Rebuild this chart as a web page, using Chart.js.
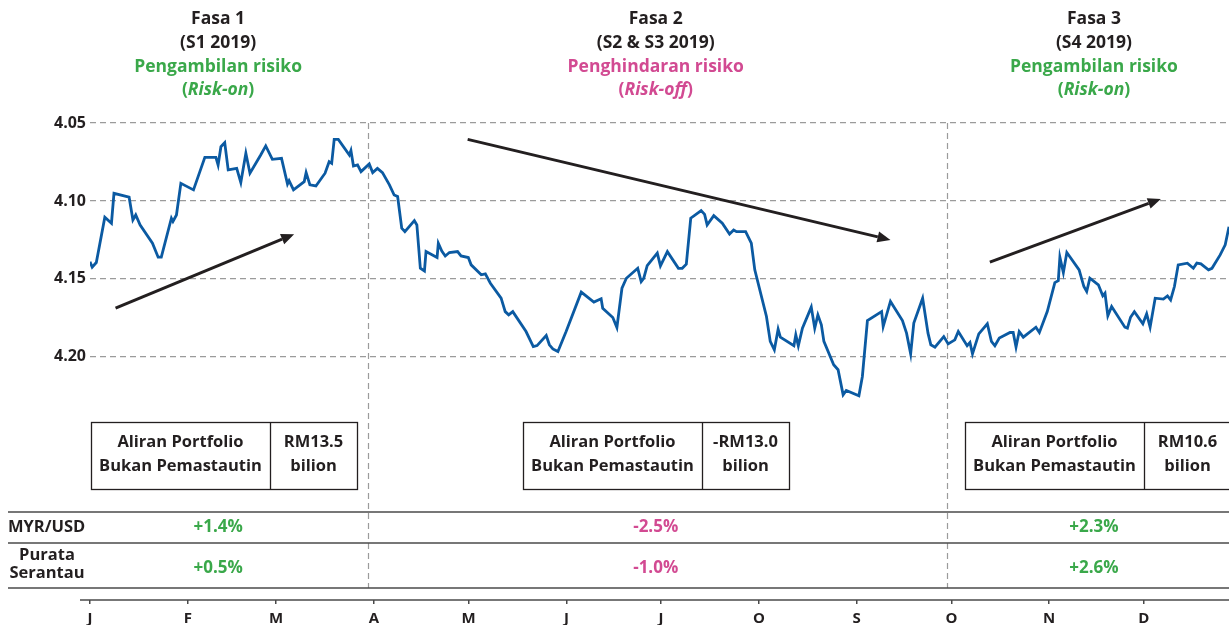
<!DOCTYPE html>
<html>
<head>
<meta charset="utf-8">
<script src="https://cdn.jsdelivr.net/npm/chart.js@4.4.0/dist/chart.umd.min.js"></script>
<style>
  html, body { margin: 0; padding: 0; background: #fff; }
  #wrap { width: 1229px; height: 625px; }
</style>
</head>
<body>
<div id="wrap"><canvas id="fxChart" width="1229" height="625"></canvas></div>
<script>
// MYR/USD 2019, day of year (0 = 1 Jan) and rate
const days = [0, 0.7, 2.0, 4.7, 6.8, 7.6, 12.4, 13.6, 14.5, 15.9, 19.8, 21.6, 22.6, 25.8, 26.3, 27.4, 28.8, 32.8, 36.4, 39.9,
  40.6, 41.5, 42.7, 43.8, 46.5, 47.8, 49.4, 50.7, 54.1, 55.7, 57.8, 60.7, 62.6, 63.1, 64.5, 67.9, 68.5, 69.7, 71.6, 74.5,
  75.8, 76.6, 77.4, 78.7, 82.2, 82.7, 83.5, 84.8, 85.9, 88.5, 89.6, 91.1, 92.7, 94.9, 96.4, 97.5, 98.8, 99.8, 102.8, 103.6,
  104.7, 106.0, 106.5, 110.0, 110.4, 111.5, 112.6, 113.9, 116.5, 117.6, 119.9, 120.8, 124.0, 125.3, 126.9, 130.3, 131.6, 132.7, 134.0, 138.2,
  140.5, 141.7, 144.6, 145.6, 146.7, 148.3, 150.9, 155.7, 159.7, 162.0, 162.5, 165.7, 167.0, 168.6, 170.0, 173.6, 174.7, 175.5, 176.6, 179.8,
  180.8, 183.0, 186.5, 187.7, 189.0, 190.4, 193.7, 194.8, 195.6, 197.7, 200.4, 202.7, 204.0, 204.9, 207.8, 209.6, 210.7, 214.4, 215.6, 216.9,
  218.1, 218.8, 223.1, 223.7, 224.5, 225.8, 228.6, 229.7, 230.7, 231.8, 232.6, 235.7, 237.1, 238.7, 239.7, 243.7, 244.8, 246.4, 250.9, 251.4,
  253.7, 257.5, 258.8, 260.1, 261.1, 263.9, 265.6, 266.5, 267.8, 270.6, 272.0, 274.1, 275.2, 278.0, 278.9, 279.7, 281.7, 284.4, 285.7, 286.8,
  288.2, 291.6, 292.6, 293.5, 294.5, 295.8, 299.8, 300.9, 303.4, 305.8, 306.9, 307.4, 308.5, 309.6, 313.5, 315.0, 315.9, 316.9, 319.6, 321.0,
  321.7, 322.6, 323.8, 328.0, 328.8, 329.8, 331.0, 333.7, 334.9, 336.0, 337.6, 340.2, 341.5, 342.5, 343.7, 344.9, 347.8, 349.7, 350.8, 352.1,
  354.5, 355.6, 358.2, 359.8, 361.0];
const rates = [4.139, 4.1425, 4.1395, 4.1105, 4.1143, 4.0951, 4.0976, 4.1122, 4.109, 4.1154, 4.1271, 4.1361, 4.1361, 4.1111, 4.1132, 4.109, 4.0887, 4.0929, 4.072, 4.072,
  4.0769, 4.0652, 4.0626, 4.0801, 4.0791, 4.0882, 4.0694, 4.0822, 4.0705, 4.0647, 4.0733, 4.0727, 4.0891, 4.087, 4.0929, 4.0876, 4.0818, 4.0897, 4.0904, 4.0822,
  4.0748, 4.0759, 4.0605, 4.0605, 4.0705, 4.0677, 4.0776, 4.0769, 4.0812, 4.0763, 4.0818, 4.0791, 4.0818, 4.0897, 4.0962, 4.0972, 4.1175, 4.1197, 4.1126, 4.1154,
  4.1432, 4.1449, 4.1325, 4.1363, 4.1271, 4.1321, 4.1353, 4.1331, 4.1325, 4.1353, 4.1363, 4.141, 4.1474, 4.1468, 4.1528, 4.1624, 4.171, 4.1731, 4.171, 4.1838,
  4.1934, 4.1928, 4.1863, 4.1923, 4.1949, 4.1966, 4.1838, 4.1585, 4.1649, 4.1628, 4.1688, 4.1748, 4.1812, 4.156, 4.1496, 4.1432, 4.1517, 4.1496, 4.1415, 4.1335,
  4.1417, 4.1325, 4.1432, 4.1432, 4.1406, 4.1111, 4.1062, 4.1086, 4.1154, 4.1094, 4.1143, 4.1212, 4.1186, 4.1197, 4.1197, 4.1271, 4.1442, 4.1741, 4.1901, 4.1955,
  4.1823, 4.1874, 4.1929, 4.1859, 4.1929, 4.1816, 4.1681, 4.1816, 4.1731, 4.1795, 4.1901, 4.2051, 4.2083, 4.2244, 4.2216, 4.225, 4.2126, 4.1767, 4.171, 4.1806,
  4.1645, 4.1767, 4.1848, 4.1981, 4.1784, 4.1624, 4.1848, 4.1923, 4.1938, 4.187, 4.1917, 4.1891, 4.1838, 4.1929, 4.1908, 4.1981, 4.1853, 4.1788, 4.1901, 4.1929,
  4.188, 4.1844, 4.1844, 4.1938, 4.1838, 4.1874, 4.181, 4.1844, 4.171, 4.1524, 4.1511, 4.1361, 4.146, 4.1331, 4.1442, 4.1549, 4.1581, 4.1496, 4.1538, 4.1609,
  4.1592, 4.1737, 4.1677, 4.181, 4.1816, 4.1746, 4.171, 4.1788, 4.1724, 4.181, 4.1624, 4.163, 4.1609, 4.1635, 4.1549, 4.141, 4.1399, 4.1432, 4.1399, 4.1404,
  4.1442, 4.1432, 4.1346, 4.1282, 4.1165];

const monthStarts = [0, 31, 59, 90, 120, 151, 181, 212, 243, 273, 304, 334];
const monthLabels = ['J', 'F', 'M', 'A', 'M', 'J', 'J', 'O', 'S', 'O', 'N', 'D'];
const yTicks = [4.05, 4.10, 4.15, 4.20];

// phases
const phaseBreaks = [88, 271.5];
const phaseCenters = [40.6, 179.3, 318.2];
const phaseNames = ['Fasa 1', 'Fasa 2', 'Fasa 3'];
const phasePeriods = ['(S1 2019)', '(S2 & S3 2019)', '(S4 2019)'];
const phaseModes = ['Pengambilan risiko', 'Penghindaran risiko', 'Pengambilan risiko'];
const phaseModesEn = ['Risk-on', 'Risk-off', 'Risk-on'];
const flowLabels = ['RM13.5', '-RM13.0', 'RM10.6'];
const myrChange = ['+1.4%', '-2.5%', '+2.3%'];
const regionChange = ['+0.5%', '-1.0%', '+2.6%'];

// trend arrows: [day, rate] start and end
const arrowFrom = [[8.1, 4.1688], [119.7, 4.0605], [285.2, 4.1393]];
const arrowTo = [[64.7, 4.1213], [253.7, 4.1250], [339.4, 4.0987]];

const FONT = "'Open Sans', Roboto, sans-serif";
const GREEN = '#3aa84a';
const PINK = '#d24a92';
const DARK = '#231f20';
const phaseColors = [GREEN, PINK, GREEN];

function drawArrow(ctx, x1, y1, x2, y2) {
  const a = Math.atan2(y2 - y1, x2 - x1);
  const head = 13, half = 5.5;
  const bx = x2 - head * Math.cos(a), by = y2 - head * Math.sin(a);
  ctx.beginPath();
  ctx.moveTo(x1, y1);
  ctx.lineTo(bx, by);
  ctx.stroke();
  ctx.beginPath();
  ctx.moveTo(x2, y2);
  ctx.lineTo(bx + half * Math.sin(a), by - half * Math.cos(a));
  ctx.lineTo(bx - half * Math.sin(a), by + half * Math.cos(a));
  ctx.closePath();
  ctx.fill();
}

// "(" + italic text + ")" centred on cx
function drawParenItalic(ctx, text, cx, cy, size) {
  const normal = `700 ${size}px ${FONT}`, italic = `italic 700 ${size}px ${FONT}`;
  ctx.font = normal;
  const wp = ctx.measureText('(').width, wq = ctx.measureText(')').width;
  ctx.font = italic;
  const wi = ctx.measureText(text).width;
  let px = cx - (wp + wi + wq) / 2;
  ctx.textAlign = 'left';
  ctx.font = normal; ctx.fillText('(', px, cy); px += wp;
  ctx.font = italic; ctx.fillText(text, px, cy); px += wi;
  ctx.font = normal; ctx.fillText(')', px, cy);
  ctx.textAlign = 'center';
}

const overlay = {
  id: 'overlay',
  beforeDatasetsDraw(chart) {
    const {ctx, chartArea, scales: {x}} = chart;
    ctx.save();
    ctx.strokeStyle = '#9b9b9b';
    ctx.lineWidth = 1.2;
    ctx.setLineDash([6, 4]);
    phaseBreaks.forEach(d => {
      const px = Math.round(x.getPixelForValue(d)) + 0.5;
      ctx.beginPath();
      ctx.moveTo(px, chartArea.top);
      ctx.lineTo(px, 588);
      ctx.stroke();
    });
    ctx.restore();
  },
  afterDraw(chart) {
    const {ctx, chartArea, scales: {x, y}} = chart;
    ctx.save();

    // arrows
    ctx.strokeStyle = DARK;
    ctx.fillStyle = DARK;
    ctx.lineWidth = 3;
    arrowFrom.forEach((f, i) => {
      const t = arrowTo[i];
      drawArrow(ctx, x.getPixelForValue(f[0]), y.getPixelForValue(f[1]),
        x.getPixelForValue(t[0]), y.getPixelForValue(t[1]));
    });

    // phase headings
    ctx.textAlign = 'center';
    ctx.textBaseline = 'middle';
    phaseCenters.forEach((d, i) => {
      const cx = x.getPixelForValue(d);
      ctx.fillStyle = DARK;
      ctx.font = `700 17.5px ${FONT}`;
      ctx.fillText(phaseNames[i], cx, 19);
      ctx.fillText(phasePeriods[i], cx, 43);
      ctx.fillStyle = phaseColors[i];
      ctx.fillText(phaseModes[i], cx, 67);
      drawParenItalic(ctx, phaseModesEn[i], cx, 90, 17.5);
    });

    // flow boxes
    const boxLeft = [91, 523, 965];
    ctx.strokeStyle = DARK;
    ctx.lineWidth = 1.3;
    boxLeft.forEach((bx, i) => {
      const top = 422.5, h = 67, wl = 179, wr = 87;
      ctx.strokeRect(bx + 0.5, top, wl + wr, h);
      ctx.beginPath();
      ctx.moveTo(bx + wl + 0.5, top);
      ctx.lineTo(bx + wl + 0.5, top + h);
      ctx.stroke();
      ctx.fillStyle = DARK;
      ctx.font = `700 16.5px ${FONT}`;
      ctx.fillText('Aliran Portfolio', bx + wl / 2, 442);
      ctx.fillText('Bukan Pemastautin', bx + wl / 2, 466);
      ctx.fillText(flowLabels[i], bx + wl + wr / 2, 442);
      ctx.fillText('bilion', bx + wl + wr / 2, 466);
    });

    // table rows
    ctx.strokeStyle = '#4a4a4a';
    ctx.lineWidth = 1.5;
    [512, 543, 588].forEach(ly => {
      ctx.beginPath();
      ctx.moveTo(8, ly);
      ctx.lineTo(chartArea.right, ly);
      ctx.stroke();
    });
    ctx.fillStyle = DARK;
    ctx.font = `700 16.5px ${FONT}`;
    ctx.textAlign = 'left';
    ctx.fillText('MYR/USD', 8, 527);
    ctx.textAlign = 'center';
    ctx.fillText('Purata', 47, 555);
    ctx.fillText('Serantau', 47, 573);
    ctx.font = `700 17px ${FONT}`;
    phaseCenters.forEach((d, i) => {
      const cx = x.getPixelForValue(d);
      ctx.fillStyle = phaseColors[i];
      ctx.fillText(myrChange[i], cx, 527);
      ctx.fillText(regionChange[i], cx, 568);
    });

    // x axis line reaching left of plot
    ctx.strokeStyle = '#4a4a4a';
    ctx.lineWidth = 1.5;
    ctx.beginPath();
    ctx.moveTo(80, chartArea.bottom);
    ctx.lineTo(chartArea.right, chartArea.bottom);
    ctx.stroke();
    ctx.restore();
  }
};

const points = days.map((d, i) => ({x: d, y: rates[i]}));

new Chart(document.getElementById('fxChart'), {
  type: 'line',
  data: {
    datasets: [{
      data: points,
      borderColor: '#0b5aa2',
      borderWidth: 2.8,
      pointRadius: 0,
      tension: 0
    }]
  },
  options: {
    responsive: false,
    animation: false,
    layout: { padding: { top: 123, left: 0, right: 0, bottom: 0 } },
    plugins: { legend: { display: false }, tooltip: { enabled: false } },
    scales: {
      x: {
        type: 'linear',
        min: 0,
        max: 361,
        afterBuildTicks: s => { s.ticks = monthStarts.map(v => ({value: v})); },
        afterFit: s => { s.height = 25; },
        grid: { display: true, drawOnChartArea: false, tickLength: 4, color: '#4a4a4a', lineWidth: 1.5 },
        border: { display: false },
        ticks: {
          autoSkip: false,
          maxRotation: 0,
          padding: 6,
          color: DARK,
          font: { family: FONT, size: 15, weight: '700' },
          callback: (v, i) => monthLabels[i]
        }
      },
      y: {
        reverse: true,
        min: 4.05,
        max: 4.356,
        afterBuildTicks: s => { s.ticks = yTicks.map(v => ({value: v})); },
        afterFit: s => { s.width = 90; },
        grid: { color: '#9b9b9b', lineWidth: 1.2, drawTicks: false },
        border: { display: false, dash: [6, 4] },
        ticks: {
          padding: 4,
          color: DARK,
          font: { family: FONT, size: 16, weight: '700' },
          callback: v => v.toFixed(2)
        }
      }
    }
  },
  plugins: [overlay]
});
</script>
</body>
</html>
